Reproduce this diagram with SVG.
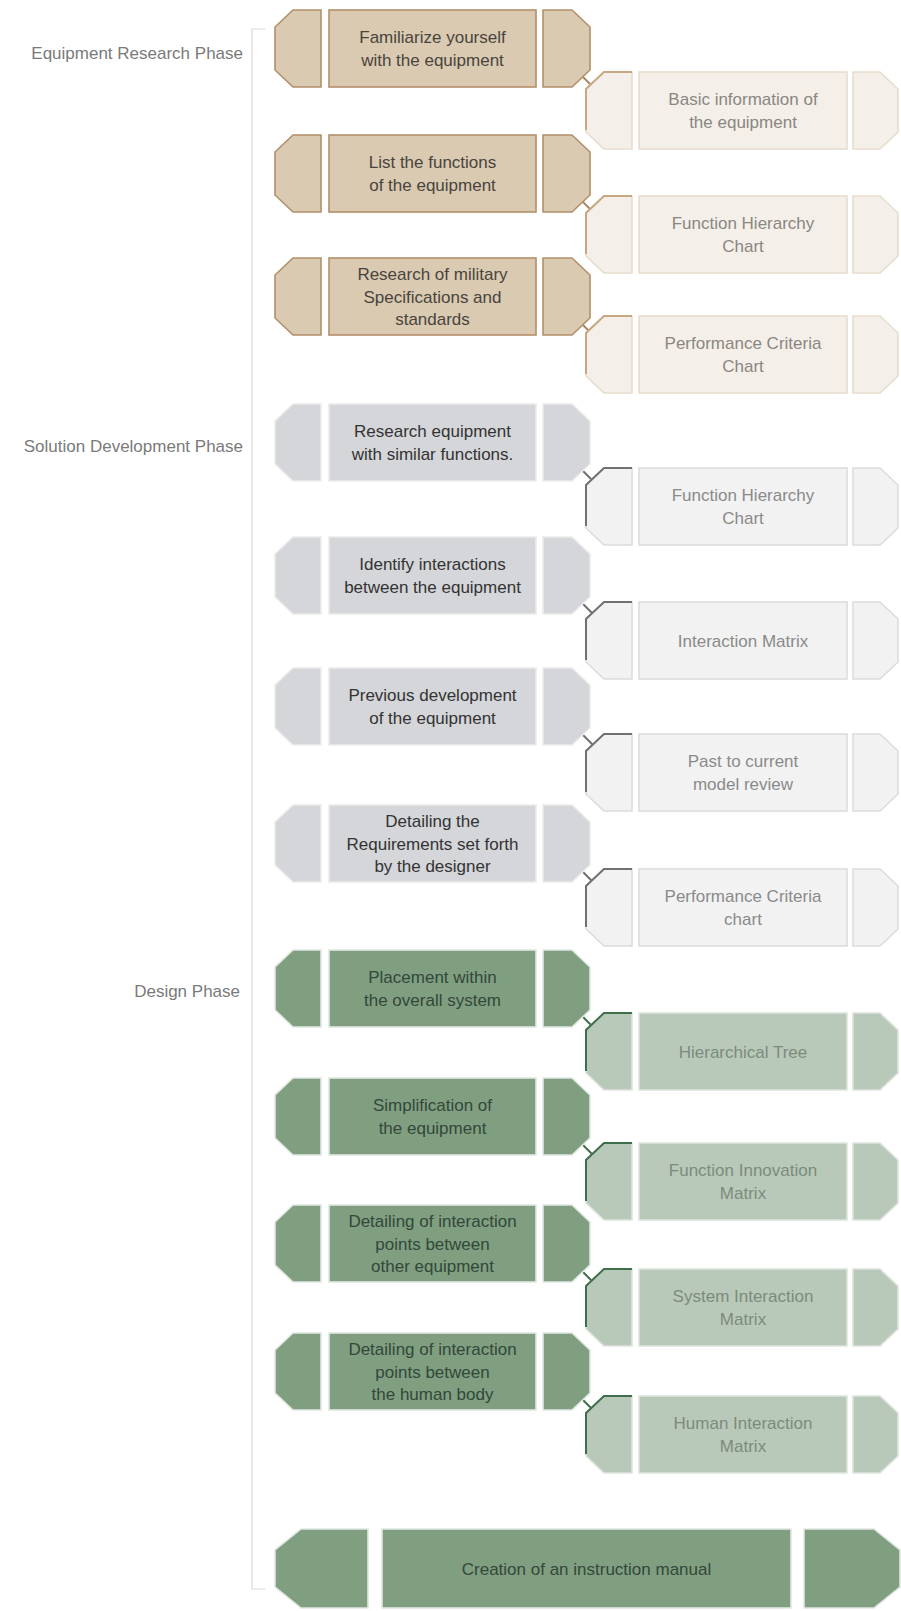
<svg xmlns="http://www.w3.org/2000/svg" width="901" height="1611" viewBox="0 0 901 1611">
<style>
text{font-family:"Liberation Sans",Arial,sans-serif;font-size:17px;text-anchor:middle}
.phase{fill:#7a7a7a;text-anchor:end}
.seg{stroke-width:1.6}
.acc{fill:none;stroke-width:2}
.beige.L .seg{fill:#d9cab1;stroke:#b38f6a}
.beige.L text{fill:#4a443d}
.beige.R .seg{fill:#f4f0e9;stroke:#e7ddce}
.beige.R .acc{stroke:#c8a882}
.beige.R text{fill:#8a8682}
.gray.L .seg{fill:#d4d6d9;stroke:#ececec}
.gray.L text{fill:#333}
.gray.R .seg{fill:#f2f2f2;stroke:#dcdcdc}
.gray.R .acc{stroke:#717171}
.gray.R text{fill:#8a8a8a}
.green.L .seg{fill:#7f9f80;stroke:#e2e7e2}
.green.L text{fill:#34473a}
.green.R .seg{fill:#b8c9b9;stroke:#dde4dd}
.green.R .acc{stroke:#3e6e4c}
.green.R text{fill:#7b8c7d}
.c{stroke-width:2;fill:none}
.cb{stroke:#a88761}.cg{stroke:#6e6e6e}.cgr{stroke:#3e6e4c}
</style>
<g id="phases">
<path d="M265,29H252V1589H265" fill="none" stroke="#d9d9d9" stroke-width="1.2"/>
<text class="phase" x="243" y="59">Equipment Research Phase</text>
<text class="phase" x="243" y="452">Solution Development Phase</text>
<text class="phase" x="240" y="997">Design Phase</text>
</g>
<g id="connectors">
<line class="c cb" x1="580" y1="74" x2="590.5" y2="84.5"/>
<line class="c cb" x1="580" y1="199" x2="590" y2="209"/>
<line class="c cb" x1="580" y1="322" x2="588.5" y2="330.5"/>
<line class="c cg" x1="580" y1="468" x2="591.5" y2="479.5"/>
<line class="c cg" x1="580" y1="601" x2="592" y2="613"/>
<line class="c cg" x1="580" y1="732" x2="592.5" y2="744.5"/>
<line class="c cg" x1="580" y1="869" x2="591.5" y2="880.5"/>
<line class="c cgr" x1="580" y1="1014" x2="591" y2="1025"/>
<line class="c cgr" x1="580" y1="1142" x2="592.5" y2="1154.5"/>
<line class="c cgr" x1="580" y1="1269" x2="592" y2="1281"/>
<line class="c cgr" x1="580" y1="1397" x2="591" y2="1408"/>
</g>
<g id="n1" class="beige L" transform="translate(275,10)">
<path class="seg" d="M18,0H46V77H18L0,60V17Z"/><rect class="seg" x="54" y="0" width="207" height="77"/><path class="seg" d="M268,0H297L315,17V60L297,77H268Z"/>
<text><tspan x="157.5" y="33">Familiarize yourself</tspan><tspan x="157.5" y="56">with the equipment</tspan></text>
</g>
<g id="n2" class="beige L" transform="translate(275,135)">
<path class="seg" d="M18,0H46V77H18L0,60V17Z"/><rect class="seg" x="54" y="0" width="207" height="77"/><path class="seg" d="M268,0H297L315,17V60L297,77H268Z"/>
<text><tspan x="157.5" y="33">List the functions</tspan><tspan x="157.5" y="56">of the equipment</tspan></text>
</g>
<g id="n3" class="beige L" transform="translate(275,258)">
<path class="seg" d="M18,0H46V77H18L0,60V17Z"/><rect class="seg" x="54" y="0" width="207" height="77"/><path class="seg" d="M268,0H297L315,17V60L297,77H268Z"/>
<text><tspan x="157.5" y="22">Research of military</tspan><tspan x="157.5" y="44.5">Specifications and</tspan><tspan x="157.5" y="67">standards</tspan></text>
</g>
<g id="n4" class="gray L" transform="translate(275,404)">
<path class="seg" d="M18,0H46V77H18L0,60V17Z"/><rect class="seg" x="54" y="0" width="207" height="77"/><path class="seg" d="M268,0H297L315,17V60L297,77H268Z"/>
<text><tspan x="157.5" y="33">Research equipment</tspan><tspan x="157.5" y="56">with similar functions.</tspan></text>
</g>
<g id="n5" class="gray L" transform="translate(275,537)">
<path class="seg" d="M18,0H46V77H18L0,60V17Z"/><rect class="seg" x="54" y="0" width="207" height="77"/><path class="seg" d="M268,0H297L315,17V60L297,77H268Z"/>
<text><tspan x="157.5" y="33">Identify interactions</tspan><tspan x="157.5" y="56">between the equipment</tspan></text>
</g>
<g id="n6" class="gray L" transform="translate(275,668)">
<path class="seg" d="M18,0H46V77H18L0,60V17Z"/><rect class="seg" x="54" y="0" width="207" height="77"/><path class="seg" d="M268,0H297L315,17V60L297,77H268Z"/>
<text><tspan x="157.5" y="33">Previous development</tspan><tspan x="157.5" y="56">of the equipment</tspan></text>
</g>
<g id="n7" class="gray L" transform="translate(275,805)">
<path class="seg" d="M18,0H46V77H18L0,60V17Z"/><rect class="seg" x="54" y="0" width="207" height="77"/><path class="seg" d="M268,0H297L315,17V60L297,77H268Z"/>
<text><tspan x="157.5" y="22">Detailing the</tspan><tspan x="157.5" y="44.5">Requirements set forth</tspan><tspan x="157.5" y="67">by the designer</tspan></text>
</g>
<g id="n8" class="green L" transform="translate(275,950)">
<path class="seg" d="M18,0H46V77H18L0,60V17Z"/><rect class="seg" x="54" y="0" width="207" height="77"/><path class="seg" d="M268,0H297L315,17V60L297,77H268Z"/>
<text><tspan x="157.5" y="33">Placement within</tspan><tspan x="157.5" y="56">the overall system</tspan></text>
</g>
<g id="n9" class="green L" transform="translate(275,1078)">
<path class="seg" d="M18,0H46V77H18L0,60V17Z"/><rect class="seg" x="54" y="0" width="207" height="77"/><path class="seg" d="M268,0H297L315,17V60L297,77H268Z"/>
<text><tspan x="157.5" y="33">Simplification of</tspan><tspan x="157.5" y="56">the equipment</tspan></text>
</g>
<g id="n10" class="green L" transform="translate(275,1205)">
<path class="seg" d="M18,0H46V77H18L0,60V17Z"/><rect class="seg" x="54" y="0" width="207" height="77"/><path class="seg" d="M268,0H297L315,17V60L297,77H268Z"/>
<text><tspan x="157.5" y="22">Detailing of interaction</tspan><tspan x="157.5" y="44.5">points between</tspan><tspan x="157.5" y="67">other equipment</tspan></text>
</g>
<g id="n11" class="green L" transform="translate(275,1333)">
<path class="seg" d="M18,0H46V77H18L0,60V17Z"/><rect class="seg" x="54" y="0" width="207" height="77"/><path class="seg" d="M268,0H297L315,17V60L297,77H268Z"/>
<text><tspan x="157.5" y="22">Detailing of interaction</tspan><tspan x="157.5" y="44.5">points between</tspan><tspan x="157.5" y="67">the human body</tspan></text>
</g>
<g id="n12" class="green L" transform="translate(275,1529)">
<path class="seg" d="M26,0H93V79H26L0,58V21Z"/><rect class="seg" x="107" y="0" width="409" height="79"/><path class="seg" d="M529,0H599L625,21V58L599,79H529Z"/>
<text x="311.5" y="45.5">Creation of an instruction manual</text>
</g>
<g id="r1" class="beige R" transform="translate(586,72)">
<path class="seg" d="M18,0H46V77H18L0,60V17Z"/><rect class="seg" x="53" y="0" width="208" height="77"/><path class="seg" d="M267,0H294L312,17V60L294,77H267Z"/><path class="acc" d="M46,0H18L0,17V58"/>
<text><tspan x="157" y="33">Basic information of</tspan><tspan x="157" y="56">the equipment</tspan></text>
</g>
<g id="r2" class="beige R" transform="translate(586,196)">
<path class="seg" d="M18,0H46V77H18L0,60V17Z"/><rect class="seg" x="53" y="0" width="208" height="77"/><path class="seg" d="M267,0H294L312,17V60L294,77H267Z"/><path class="acc" d="M46,0H18L0,17V58"/>
<text><tspan x="157" y="33">Function Hierarchy</tspan><tspan x="157" y="56">Chart</tspan></text>
</g>
<g id="r3" class="beige R" transform="translate(586,316)">
<path class="seg" d="M18,0H46V77H18L0,60V17Z"/><rect class="seg" x="53" y="0" width="208" height="77"/><path class="seg" d="M267,0H294L312,17V60L294,77H267Z"/><path class="acc" d="M46,0H18L0,17V58"/>
<text><tspan x="157" y="33">Performance Criteria</tspan><tspan x="157" y="56">Chart</tspan></text>
</g>
<g id="r4" class="gray R" transform="translate(586,468)">
<path class="seg" d="M18,0H46V77H18L0,60V17Z"/><rect class="seg" x="53" y="0" width="208" height="77"/><path class="seg" d="M267,0H294L312,17V60L294,77H267Z"/><path class="acc" d="M46,0H18L0,17V58"/>
<text><tspan x="157" y="33">Function Hierarchy</tspan><tspan x="157" y="56">Chart</tspan></text>
</g>
<g id="r5" class="gray R" transform="translate(586,602)">
<path class="seg" d="M18,0H46V77H18L0,60V17Z"/><rect class="seg" x="53" y="0" width="208" height="77"/><path class="seg" d="M267,0H294L312,17V60L294,77H267Z"/><path class="acc" d="M46,0H18L0,17V58"/>
<text x="157" y="44.5">Interaction Matrix</text>
</g>
<g id="r6" class="gray R" transform="translate(586,734)">
<path class="seg" d="M18,0H46V77H18L0,60V17Z"/><rect class="seg" x="53" y="0" width="208" height="77"/><path class="seg" d="M267,0H294L312,17V60L294,77H267Z"/><path class="acc" d="M46,0H18L0,17V58"/>
<text><tspan x="157" y="33">Past to current</tspan><tspan x="157" y="56">model review</tspan></text>
</g>
<g id="r7" class="gray R" transform="translate(586,869)">
<path class="seg" d="M18,0H46V77H18L0,60V17Z"/><rect class="seg" x="53" y="0" width="208" height="77"/><path class="seg" d="M267,0H294L312,17V60L294,77H267Z"/><path class="acc" d="M46,0H18L0,17V58"/>
<text><tspan x="157" y="33">Performance Criteria</tspan><tspan x="157" y="56">chart</tspan></text>
</g>
<g id="r8" class="green R" transform="translate(586,1013)">
<path class="seg" d="M18,0H46V77H18L0,60V17Z"/><rect class="seg" x="53" y="0" width="208" height="77"/><path class="seg" d="M267,0H294L312,17V60L294,77H267Z"/><path class="acc" d="M46,0H18L0,17V58"/>
<text x="157" y="44.5">Hierarchical Tree</text>
</g>
<g id="r9" class="green R" transform="translate(586,1143)">
<path class="seg" d="M18,0H46V77H18L0,60V17Z"/><rect class="seg" x="53" y="0" width="208" height="77"/><path class="seg" d="M267,0H294L312,17V60L294,77H267Z"/><path class="acc" d="M46,0H18L0,17V58"/>
<text><tspan x="157" y="33">Function Innovation</tspan><tspan x="157" y="56">Matrix</tspan></text>
</g>
<g id="r10" class="green R" transform="translate(586,1269)">
<path class="seg" d="M18,0H46V77H18L0,60V17Z"/><rect class="seg" x="53" y="0" width="208" height="77"/><path class="seg" d="M267,0H294L312,17V60L294,77H267Z"/><path class="acc" d="M46,0H18L0,17V58"/>
<text><tspan x="157" y="33">System Interaction</tspan><tspan x="157" y="56">Matrix</tspan></text>
</g>
<g id="r11" class="green R" transform="translate(586,1396)">
<path class="seg" d="M18,0H46V77H18L0,60V17Z"/><rect class="seg" x="53" y="0" width="208" height="77"/><path class="seg" d="M267,0H294L312,17V60L294,77H267Z"/><path class="acc" d="M46,0H18L0,17V58"/>
<text><tspan x="157" y="33">Human Interaction</tspan><tspan x="157" y="56">Matrix</tspan></text>
</g>
</svg>
